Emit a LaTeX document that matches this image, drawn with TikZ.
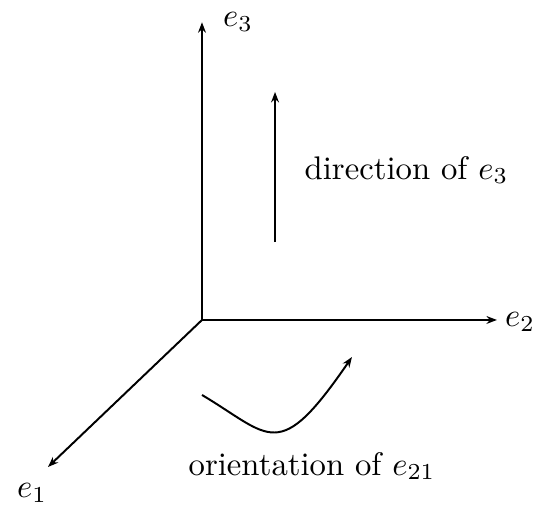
\documentclass[tikz,border=0pt]{standalone}
\usepackage{amsmath,amssymb}
\usetikzlibrary{arrows.meta}

\begin{document}
\begin{tikzpicture}[
    axis/.style={semithick, -{Stealth[length=3.2pt]}},
    >=Stealth
]
    \useasboundingbox (-2.171,-1.999) rectangle (3.633,3.439);

    % Axes
    \coordinate (o) at (0,0);
    \coordinate (x3) at (0,3.2);
    \coordinate (x2) at (3.17,0);
    \coordinate (x1) at (-1.655,-1.58);
    \draw[axis] (o) -- (x3);
    \draw[axis] (o) -- (x2);
    \draw[axis] (o) -- (x1);
    \node (l3) at (0.387,3.2) {$e_3$};
    \node (l2) at (3.418,-0.021) {$e_2$};
    \node (l1) at (-1.827,-1.859) {$e_1$};

    % Direction
    \coordinate (d0) at (0.785,0.838);
    \coordinate (d1) at (0.785,2.451);
    \draw[axis] (d0) -- (d1);
    \node[anchor=west] (dir) at (0.98,1.612) {direction of $e_3$};

    % Orientation
    \coordinate (c0) at (0,-0.806);
    \coordinate (c1) at (1.612,-0.398);
    \draw[axis] (c0) .. controls (0.742,-1.247) and (0.817,-1.558) .. (c1);
    \node (ori) at (1.182,-1.569) {orientation of $e_{21}$};
\end{tikzpicture}
\end{document}
